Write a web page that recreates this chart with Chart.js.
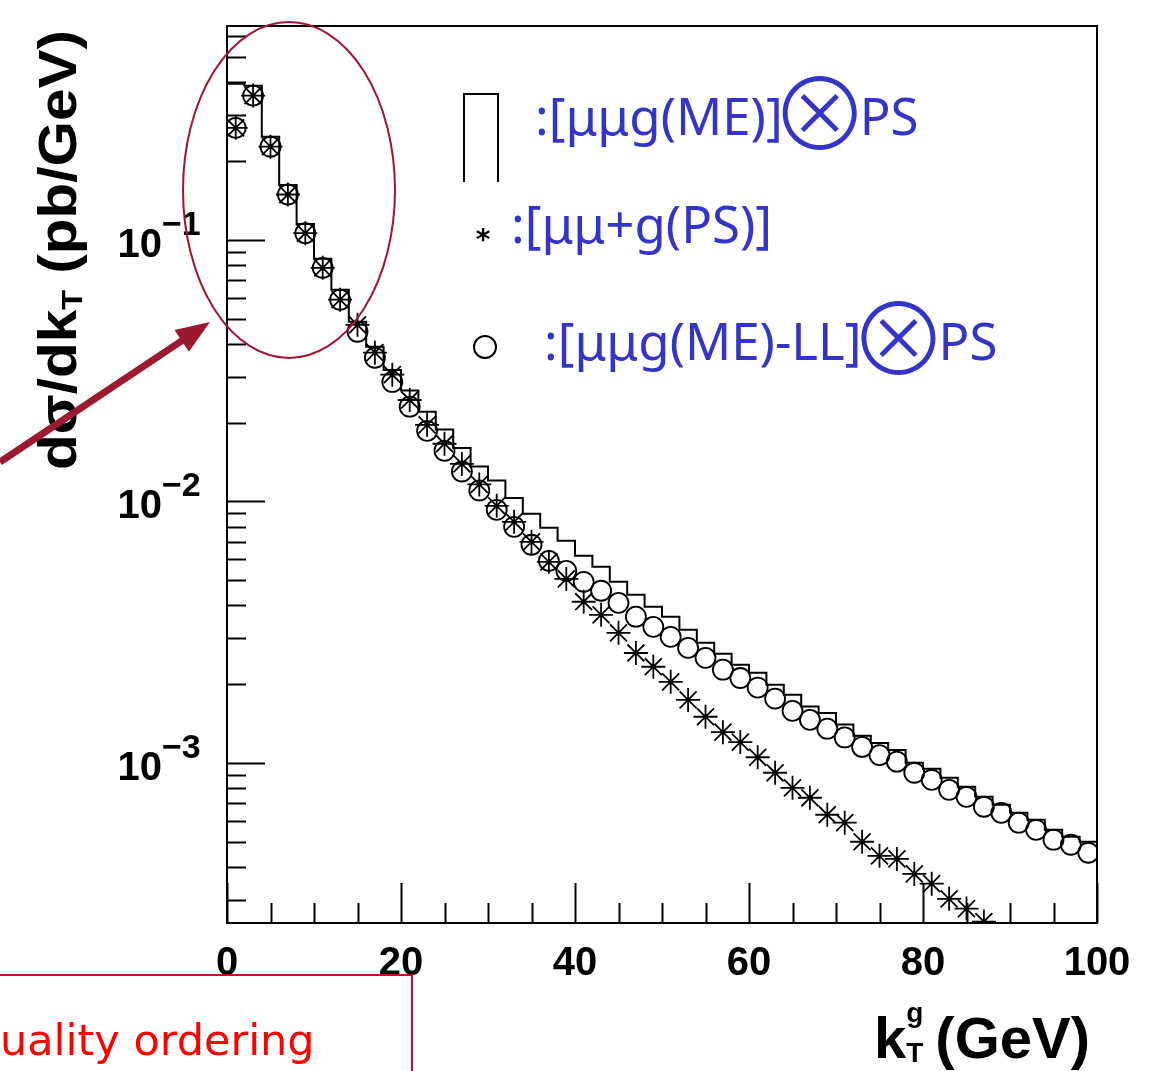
<!DOCTYPE html>
<html>
<head>
<meta charset="utf-8">
<script src="https://cdn.jsdelivr.net/npm/chart.js@4.4.1/dist/chart.umd.min.js"></script>
<style>
  html, body { margin: 0; padding: 0; background: #fff; }
  canvas { display: block; }
</style>
</head>
<body>
<canvas id="grafica" width="1152" height="1071"></canvas>
<script>
// Datos (bins de 2 GeV, centro del bin)
const binWidth = 2;
const kT = [1, 3, 5, 7, 9, 11, 13, 15, 17, 19,
            21, 23, 25, 27, 29, 31, 33, 35, 37, 39,
            41, 43, 45, 47, 49, 51, 53, 55, 57, 59,
            61, 63, 65, 67, 69, 71, 73, 75, 77, 79,
            81, 83, 85, 87, 89, 91, 93, 95, 97, 99];

// [mumu g (ME)] x PS  -> histograma
const meHist = [0.395, 0.388, 0.248, 0.162, 0.115, 0.0846, 0.0644, 0.0486, 0.0390, 0.0318,
                0.0265, 0.0220, 0.0188, 0.0160, 0.0136, 0.0120, 0.0103, 0.00896, 0.00792, 0.00706,
                0.00619, 0.00562, 0.00492, 0.00439, 0.00395, 0.00362, 0.00323, 0.00288, 0.00261, 0.00237,
                0.00221, 0.00199, 0.00182, 0.00164, 0.00155, 0.00140, 0.00127, 0.00119, 0.00112, 0.00100,
                0.000949, 0.000876, 0.000810, 0.000741, 0.000691, 0.000644, 0.000605, 0.000554, 0.000521, 0.000499];

// [mumu + g (PS)] -> estrellas (las ultimas caen fuera del eje)
const psStars = [0.268, 0.356, 0.227, 0.149, 0.106, 0.0781, 0.0590, 0.0473, 0.0370, 0.0305,
                 0.0244, 0.0196, 0.0166, 0.0139, 0.0116, 0.00961, 0.00835, 0.00700, 0.00587, 0.00505,
                 0.00413, 0.00368, 0.00314, 0.00263, 0.00233, 0.00204, 0.00174, 0.00150, 0.00131, 0.00120,
                 0.00105, 0.000916, 0.000802, 0.000735, 0.000633, 0.000590, 0.000499, 0.000441, 0.000429, 0.000376,
                 0.000345, 0.000302, 0.000277, 0.000247];

// [mumu g (ME) - LL] x PS -> circulos
const meLLCircles = [0.268, 0.356, 0.227, 0.149, 0.106, 0.0781, 0.0590, 0.0445, 0.0354, 0.0286,
                     0.0230, 0.0186, 0.0156, 0.0130, 0.0110, 0.00928, 0.00799, 0.00682, 0.00592, 0.00542,
                     0.00492, 0.00455, 0.00409, 0.00362, 0.00331, 0.00303, 0.00275, 0.00252, 0.00227, 0.00211,
                     0.00194, 0.00176, 0.00158, 0.00146, 0.00135, 0.00125, 0.00115, 0.00107, 0.00101, 0.000916,
                     0.000861, 0.000788, 0.000741, 0.000679, 0.000644, 0.000590, 0.000554, 0.000508, 0.000486, 0.000453];

const xTicks = [0, 20, 40, 60, 80, 100];
const yTickPowers = [-1, -2, -3];
const yMin = 0.000244;
const yMax = 0.657;

const legendLabels = [
    { pre: ':[\u03bc\u03bcg(ME)]', cross: true },
    { pre: ':[\u03bc\u03bc+g(PS)]', cross: false },
    { pre: ':[\u03bc\u03bcg(ME)-LL]', cross: true }
];

// Histograma escalonado construido desde los bordes de cada bin
const histPoints = kT.map((c, i) => ({ x: c - binWidth / 2, y: meHist[i] }));
histPoints.push({ x: kT[kT.length - 1] + binWidth / 2, y: meHist[meHist.length - 1] });

const starPoints = psStars.map((v, i) => ({ x: kT[i], y: v }));
const circlePoints = meLLCircles.map((v, i) => ({ x: kT[i], y: v }));

const BLUE = '#3434c8';
const DARKRED = '#a3122e';

const fondoBlanco = {
    id: 'fondoBlanco',
    beforeDraw(chart) {
        const ctx = chart.ctx;
        ctx.save();
        ctx.fillStyle = '#fff';
        ctx.fillRect(0, 0, chart.width, chart.height);
        ctx.restore();
    }
};

const decoracion = {
    id: 'decoracion',
    afterDraw(chart) {
        const { ctx, chartArea: a, scales } = chart;
        const xs = scales.x, ys = scales.y;
        ctx.save();

        // marco
        ctx.strokeStyle = '#000';
        ctx.lineWidth = 2;
        ctx.strokeRect(a.left, a.top, a.right - a.left, a.bottom - a.top);

        // ticks eje y (hacia dentro)
        for (let p = -4; p <= 0; p++) {
            for (let m = 1; m <= 9; m++) {
                const v = m * Math.pow(10, p);
                if (v < yMin || v > yMax) continue;
                const py = Math.round(ys.getPixelForValue(v)) + 0.5;
                const len = (m === 1) ? 38 : 19;
                ctx.beginPath();
                ctx.moveTo(a.left, py);
                ctx.lineTo(a.left + len, py);
                ctx.stroke();
            }
        }
        // ticks eje x (hacia arriba)
        for (let t = 0; t <= 100; t += 5) {
            const px = Math.round(xs.getPixelForValue(t)) + 0.5;
            const len = (t % 20 === 0) ? 40 : 20;
            ctx.beginPath();
            ctx.moveTo(px, a.bottom);
            ctx.lineTo(px, a.bottom - len);
            ctx.stroke();
        }

        // etiquetas eje x
        ctx.fillStyle = '#000';
        ctx.font = 'bold 40px "Liberation Sans", Arial, sans-serif';
        ctx.textAlign = 'center';
        ctx.textBaseline = 'alphabetic';
        xTicks.forEach(t => {
            ctx.fillText(String(t), xs.getPixelForValue(t), 975);
        });

        // etiquetas eje y: 10^-n
        yTickPowers.forEach(p => {
            const py = ys.getPixelForValue(Math.pow(10, p));
            ctx.font = 'bold 40px "Liberation Sans", Arial, sans-serif';
            ctx.textAlign = 'right';
            ctx.fillText('10', 162, py + 17);
            ctx.font = 'bold 34px "Liberation Sans", Arial, sans-serif';
            ctx.textAlign = 'left';
            ctx.fillText('\u2212' + Math.abs(p), 162, py - 5);
        });

        // titulo eje x: k^g_T (GeV)
        ctx.textAlign = 'left';
        let xx = 874;
        ctx.font = 'bold 58px "Liberation Sans", Arial, sans-serif';
        ctx.fillText('k', xx, 1058);
        xx += ctx.measureText('k').width;
        ctx.font = 'bold 28px "Liberation Sans", Arial, sans-serif';
        ctx.fillText('g', xx, 1022);
        ctx.fillText('T', xx, 1062);
        xx += ctx.measureText('T').width + 12;
        ctx.font = 'bold 58px "Liberation Sans", Arial, sans-serif';
        ctx.fillText('(GeV)', xx, 1058, 1096 - xx);

        // titulo eje y (rotado)
        ctx.save();
        ctx.translate(76, 250);
        ctx.rotate(-Math.PI / 2);
        const fBig = 'bold 54px "Liberation Sans", Arial, sans-serif';
        const fSmall = 'bold 30px "Liberation Sans", Arial, sans-serif';
        ctx.font = fBig;
        const w1 = ctx.measureText('d\u03c3/dk').width;
        const w3 = ctx.measureText(' (pb/GeV)').width;
        ctx.font = fSmall;
        const w2 = ctx.measureText('T').width;
        const total = w1 + w2 + w3;
        ctx.scale(440 / total, 1);
        let tx = -total / 2;
        ctx.font = fBig;
        ctx.fillText('d\u03c3/dk', tx, 0);
        tx += w1;
        ctx.font = fSmall;
        ctx.fillText('T', tx, 6);
        tx += w2;
        ctx.font = fBig;
        ctx.fillText(' (pb/GeV)', tx, 0);
        ctx.restore();

        // leyenda: simbolos
        ctx.strokeStyle = '#000';
        ctx.lineWidth = 2;
        ctx.beginPath();
        ctx.moveTo(464, 182);
        ctx.lineTo(464, 94);
        ctx.lineTo(498, 94);
        ctx.lineTo(498, 182);
        ctx.stroke();
        ctx.font = 'bold 28px "DejaVu Sans", sans-serif';
        ctx.textAlign = 'center';
        ctx.textBaseline = 'middle';
        ctx.fillStyle = '#000';
        ctx.fillText('*', 483, 242);
        ctx.beginPath();
        ctx.arc(485, 347, 11, 0, Math.PI * 2);
        ctx.stroke();

        // leyenda: textos azules
        const posLeyenda = [[535, 135], [511, 243], [544, 360]];
        ctx.fillStyle = BLUE;
        legendLabels.forEach((lab, i) => {
            const [lx, ly] = posLeyenda[i];
            ctx.textAlign = 'left';
            ctx.textBaseline = 'alphabetic';
            ctx.font = '51px "Noto Sans", sans-serif';
            ctx.fillText(lab.pre, lx, ly);
            if (lab.cross) {
                const cx = lx + ctx.measureText(lab.pre).width + 37;
                ctx.font = '300 100px "Noto Sans CJK JP", "DejaVu Sans", sans-serif';
                ctx.textAlign = 'center';
                ctx.textBaseline = 'middle';
                ctx.fillText('\u2297', cx, ly - 22);
                ctx.font = '51px "Noto Sans", sans-serif';
                ctx.textAlign = 'left';
                ctx.textBaseline = 'alphabetic';
                ctx.fillText('PS', cx + 40, ly);
            }
        });

        // anotaciones en rojo
        ctx.strokeStyle = DARKRED;
        ctx.lineWidth = 2;
        ctx.beginPath();
        ctx.ellipse(289, 190, 106, 168, 0, 0, Math.PI * 2);
        ctx.stroke();

        // flecha
        ctx.strokeStyle = '#9b1a30';
        ctx.fillStyle = '#9b1a30';
        ctx.lineWidth = 7;
        const ax0 = 0, ay0 = 462, ax1 = 210, ay1 = 322;
        const ang = Math.atan2(ay1 - ay0, ax1 - ax0);
        ctx.beginPath();
        ctx.moveTo(ax0, ay0);
        ctx.lineTo(ax1 - 26 * Math.cos(ang), ay1 - 26 * Math.sin(ang));
        ctx.stroke();
        ctx.beginPath();
        ctx.moveTo(ax1, ay1);
        ctx.lineTo(ax1 - 34 * Math.cos(ang) + 13 * Math.sin(ang), ay1 - 34 * Math.sin(ang) - 13 * Math.cos(ang));
        ctx.lineTo(ax1 - 34 * Math.cos(ang) - 13 * Math.sin(ang), ay1 - 34 * Math.sin(ang) + 13 * Math.cos(ang));
        ctx.closePath();
        ctx.fill();

        // caja y texto inferior
        ctx.strokeStyle = '#c0102c';
        ctx.lineWidth = 2;
        ctx.beginPath();
        ctx.moveTo(0, 975);
        ctx.lineTo(412, 975);
        ctx.lineTo(412, 1071);
        ctx.stroke();
        ctx.fillStyle = '#ff0000';
        ctx.font = '43px "DejaVu Sans", sans-serif';
        ctx.textAlign = 'left';
        ctx.textBaseline = 'alphabetic';
        ctx.fillText('uality ordering', 0, 1055, 316);

        ctx.restore();
    }
};

const ctx = document.getElementById('grafica').getContext('2d');
const grafica = new Chart(ctx, {
    type: 'scatter',
    data: {
        datasets: [
            {
                type: 'line',
                label: 'ME x PS',
                data: histPoints,
                stepped: 'before',
                borderColor: '#000',
                borderWidth: 2,
                pointRadius: 0,
                fill: false,
                order: 3
            },
            {
                label: 'PS',
                data: starPoints,
                pointStyle: 'star',
                pointRadius: 12,
                borderColor: '#000',
                backgroundColor: '#000',
                borderWidth: 1.8,
                order: 2
            },
            {
                label: 'ME-LL x PS',
                data: circlePoints,
                pointStyle: 'circle',
                pointRadius: 10,
                borderColor: '#000',
                backgroundColor: 'rgba(0,0,0,0)',
                borderWidth: 1.8,
                order: 1
            }
        ]
    },
    options: {
        responsive: false,
        animation: false,
        devicePixelRatio: 1,
        layout: { padding: { left: 227, top: 26, right: 55, bottom: 148 } },
        plugins: {
            legend: { display: false },
            tooltip: { enabled: false }
        },
        scales: {
            x: { type: 'linear', min: 0, max: 100, display: false },
            y: { type: 'logarithmic', min: yMin, max: yMax, display: false }
        }
    },
    plugins: [fondoBlanco, decoracion]
});
</script>
</body>
</html>
